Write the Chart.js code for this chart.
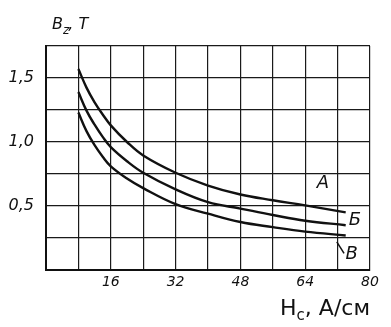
<!DOCTYPE html>
<html>
<head>
<meta charset="utf-8">
<script src="https://cdn.jsdelivr.net/npm/chart.js@4/dist/chart.umd.min.js"></script>
<style>
html,body{margin:0;padding:0;background:#fff;}
#c{display:block;}
</style>
</head>
<body>
<canvas id="c" width="391" height="327"></canvas>
<script>
// H_c, A/cm
const hValues = [8, 10, 12, 14, 16, 20, 24, 32, 40, 48, 56, 64, 74];
// B_z, T for curves А, Б, В
const curveA = [1.57, 1.425, 1.31, 1.215, 1.13, 1.0, 0.895, 0.76, 0.66, 0.59, 0.545, 0.505, 0.45];
const curveB = [1.39, 1.245, 1.135, 1.04, 0.96, 0.85, 0.76, 0.63, 0.53, 0.48, 0.43, 0.385, 0.35];
const curveV = [1.23, 1.085, 0.975, 0.885, 0.81, 0.715, 0.64, 0.515, 0.44, 0.375, 0.335, 0.30, 0.27];
const seriesNames = ['А', 'Б', 'В'];
const xTickLabels = ['16', '32', '48', '64', '80'];
const yTickLabels = ['0,5', '1,0', '1,5'];
// label anchor positions (data coords) for curve names
const labelPos = [[68.4, 0.68], [76.3, 0.39], [75.5, 0.12]];

const toPts = arr => arr.map((v, i) => ({x: hValues[i], y: v}));

const labelsPlugin = {
  id: 'labelsPlugin',
  afterDraw(chart) {
    const ctx = chart.ctx, xs = chart.scales.x, ys = chart.scales.y;
    ctx.save();
    ctx.fillStyle = '#111';
    ctx.strokeStyle = '#111';
    // curve names
    ctx.font = 'italic 18px "DejaVu Sans"';
    ctx.textAlign = 'center';
    ctx.textBaseline = 'middle';
    seriesNames.forEach((n, i) => {
      ctx.fillText(n, xs.getPixelForValue(labelPos[i][0]), ys.getPixelForValue(labelPos[i][1]));
    });
    // leader for В
    ctx.lineWidth = 1.5;
    ctx.beginPath();
    ctx.moveTo(xs.getPixelForValue(71.8), ys.getPixelForValue(0.22));
    ctx.lineTo(xs.getPixelForValue(73.6), ys.getPixelForValue(0.13));
    ctx.stroke();

    // y axis title: B_z, Т
    ctx.textAlign = 'left';
    ctx.textBaseline = 'alphabetic';
    let x = chart.chartArea.left + 6, y = 29;
    ctx.font = 'italic 16px "DejaVu Sans"';
    ctx.fillText('B', x, y); x += ctx.measureText('B').width;
    ctx.font = 'italic 12px "DejaVu Sans"';
    ctx.fillText('z', x, y + 5); x += ctx.measureText('z').width;
    ctx.font = 'italic 16px "DejaVu Sans"';
    ctx.fillText(', Т', x - 1, y);

    // x axis title: H_c, А/см
    const t1 = 'H', t3 = ', А/см';
    ctx.font = '15px "DejaVu Sans"';
    const wc = ctx.measureText('c').width;
    ctx.font = '22px "DejaVu Sans"';
    const w1 = ctx.measureText(t1).width, w3 = ctx.measureText(t3).width;
    let xx = chart.chartArea.right - (w1 + wc + w3);
    const yy = 315;
    ctx.fillText(t1, xx, yy); xx += w1;
    ctx.font = '15px "DejaVu Sans"';
    ctx.fillText('c', xx, yy + 5); xx += wc;
    ctx.font = '22px "DejaVu Sans"';
    ctx.fillText(t3, xx, yy);
    ctx.restore();
  }
};

const lineStyle = {
  borderColor: '#111',
  borderWidth: 2.4,
  pointRadius: 0,
  fill: false,
  tension: 0.4
};

new Chart(document.getElementById('c'), {
  type: 'line',
  data: {
    datasets: [
      Object.assign({label: seriesNames[0], data: toPts(curveA)}, lineStyle),
      Object.assign({label: seriesNames[1], data: toPts(curveB)}, lineStyle),
      Object.assign({label: seriesNames[2], data: toPts(curveV)}, lineStyle)
    ]
  },
  options: {
    responsive: false,
    animation: false,
    layout: {padding: {top: 46, right: 21, left: 0, bottom: 0}},
    plugins: {legend: {display: false}, tooltip: {enabled: false}},
    scales: {
      x: {
        type: 'linear',
        min: 0, max: 80,
        afterFit: s => { s.height = 57; },
        ticks: {
          stepSize: 8,
          autoSkip: false,
          maxRotation: 0,
          padding: 4,
          color: '#111',
          font: {family: 'DejaVu Sans', size: 14, style: 'italic'},
          callback: v => { const s = String(Math.round(v)); return xTickLabels.includes(s) ? s : ''; }
        },
        grid: {color: '#1a1a1a', lineWidth: 1.2, drawTicks: false},
        border: {color: '#111', width: 2}
      },
      y: {
        type: 'linear',
        min: 0, max: 1.75,
        afterFit: s => { s.width = 46; },
        ticks: {
          stepSize: 0.25,
          autoSkip: false,
          padding: 12,
          color: '#111',
          font: {family: 'DejaVu Sans', size: 16, style: 'italic'},
          callback: v => { const s = (Math.round(v * 100) / 100).toFixed(1).replace('.', ','); return (Math.abs(v * 2 - Math.round(v * 2)) < 1e-6 && yTickLabels.includes(s)) ? s : ''; }
        },
        grid: {color: '#1a1a1a', lineWidth: 1.2, drawTicks: false},
        border: {color: '#111', width: 2}
      }
    }
  },
  plugins: [labelsPlugin]
});
</script>
</body>
</html>
